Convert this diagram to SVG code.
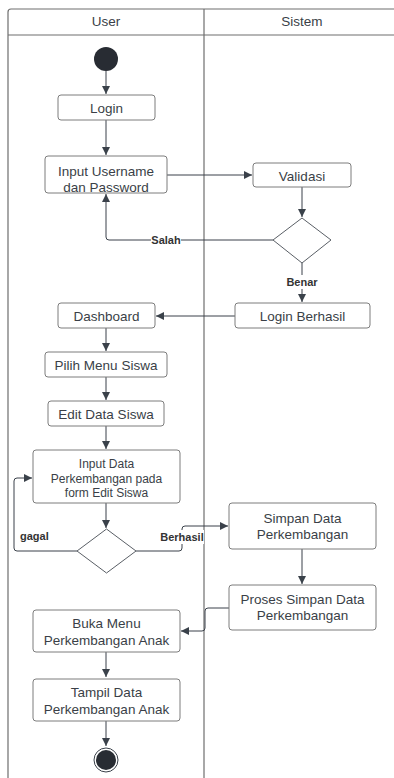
<svg xmlns="http://www.w3.org/2000/svg" width="394" height="778" viewBox="0 0 394 778">
  <defs>
    <marker id="arrow" viewBox="0 0 10 10" refX="10" refY="5" markerWidth="8" markerHeight="8" markerUnits="userSpaceOnUse" orient="auto">
      <path d="M0,0 L10,5 L0,10 Z" fill="#3a414a"/>
    </marker>
    <style>
      .lane { fill: none; stroke: #6e6e6e; stroke-width: 1.2; }
      .act rect { fill: #ffffff; stroke: #7d7d7d; stroke-width: 1; }
      .act text, .hdr { font-family: "Liberation Sans", Arial, sans-serif; font-size: 13.5px; fill: #3a3f47; text-anchor: middle; dominant-baseline: central; }
      .act text.small { font-size: 12px; }
      .dec polygon { fill: #ffffff; stroke: #5a5f66; stroke-width: 1; }
      .conn path { fill: none; stroke: #3a414a; stroke-width: 1; stroke-linejoin: round; }
      .lbl { font-family: "Liberation Sans", Arial, sans-serif; font-size: 11px; font-weight: bold; fill: #333333; dominant-baseline: central; }
    </style>
  </defs>

  <rect width="394" height="778" fill="#ffffff"/>

  <!-- swimlanes -->
  <g id="lanes">
    <path class="lane" d="M8,778 V12 Q8,9 11,9 H394"/>
    <path class="lane" d="M8,35 H394"/>
    <path class="lane" d="M204,9 V778"/>
    <text class="hdr" x="106" y="21">User</text>
    <text class="hdr" x="302" y="21">Sistem</text>
  </g>

  <!-- connectors -->
  <g id="connectors" class="conn">
    <path d="M106,71 V94" marker-end="url(#arrow)"/>
    <path d="M106,120 V155" stroke="#9a9a9a" marker-end="url(#arrow)"/>
    <path d="M167,175 H252" marker-end="url(#arrow)"/>
    <path d="M302,187 V217" marker-end="url(#arrow)"/>
    <path d="M273,240 H109 Q106,240 106,237 V194" marker-end="url(#arrow)"/>
    <path d="M302,263 V302" marker-end="url(#arrow)"/>
    <path d="M235,316 H156" marker-end="url(#arrow)"/>
    <path d="M106,328 V351" marker-end="url(#arrow)"/>
    <path d="M106,377 V400" marker-end="url(#arrow)"/>
    <path d="M106,426 V449" marker-end="url(#arrow)"/>
    <path d="M106,503 V528" marker-end="url(#arrow)"/>
    <path d="M77,551 H17 Q14,551 14,548 V481 Q14,478 17,478 H32" marker-end="url(#arrow)"/>
    <path d="M136,551 H179 Q182,551 182,548 V529 Q182,526 185,526 H228" marker-end="url(#arrow)"/>
    <path d="M302,549 V584" marker-end="url(#arrow)"/>
    <path d="M229,608 H208 Q205,608 205,611 V628 Q205,631 202,631 H181" marker-end="url(#arrow)"/>
    <path d="M106,652 V677" marker-end="url(#arrow)"/>
    <path d="M106,721 V746" marker-end="url(#arrow)"/>
  </g>

  <!-- connector labels -->
  <g id="labels">
    <rect x="151" y="233" width="30" height="14" fill="#ffffff"/>
    <text class="lbl" x="166" y="240" text-anchor="middle">Salah</text>
    <rect x="286" y="275" width="32" height="14" fill="#ffffff"/>
    <text class="lbl" x="302" y="282" text-anchor="middle">Benar</text>
    <text class="lbl" x="20" y="536">gagal</text>
    <rect x="161" y="530" width="43" height="14" fill="#ffffff"/>
    <text class="lbl" x="182" y="537" text-anchor="middle">Berhasil</text>
  </g>

  <!-- nodes -->
  <g id="start">
    <circle cx="106" cy="59" r="12" fill="#282c33"/>
  </g>

  <g id="login" class="act">
    <rect x="58" y="95" width="97" height="25" rx="3"/>
    <text x="106.5" y="108">Login</text>
  </g>

  <g id="input-username" class="act">
    <rect x="45" y="156" width="122" height="37" rx="3"/>
    <text x="106" y="171">Input Username</text>
    <text x="106" y="187">dan Password</text>
  </g>

  <g id="validasi" class="act">
    <rect x="253" y="163" width="98" height="24" rx="3"/>
    <text x="302" y="176">Validasi</text>
  </g>

  <g id="cek-login" class="dec">
    <polygon points="302,218 331,240 302,263 273,240"/>
  </g>

  <g id="login-berhasil" class="act">
    <rect x="235" y="303" width="135" height="25" rx="3"/>
    <text x="302.5" y="316">Login Berhasil</text>
  </g>

  <g id="dashboard" class="act">
    <rect x="58" y="303" width="97" height="25" rx="3"/>
    <text x="106.5" y="316">Dashboard</text>
  </g>

  <g id="pilih-menu" class="act">
    <rect x="45" y="352" width="122" height="25" rx="3"/>
    <text x="106" y="365">Pilih Menu Siswa</text>
  </g>

  <g id="edit-data" class="act">
    <rect x="48" y="401" width="116" height="25" rx="3"/>
    <text x="106" y="414">Edit Data Siswa</text>
  </g>

  <g id="input-data" class="act">
    <rect x="33" y="450" width="147" height="53" rx="3"/>
    <text class="small" x="106.5" y="464">Input Data</text>
    <text class="small" x="106.5" y="479">Perkembangan pada</text>
    <text class="small" x="106.5" y="493">form Edit Siswa</text>
  </g>

  <g id="cek-input" class="dec">
    <polygon points="106.5,529 136,551 106.5,573 77,551"/>
  </g>

  <g id="simpan-data" class="act">
    <rect x="229" y="503" width="147" height="46" rx="3"/>
    <text x="302.5" y="518">Simpan Data</text>
    <text x="302.5" y="534">Perkembangan</text>
  </g>

  <g id="proses-simpan" class="act">
    <rect x="229" y="585" width="147" height="45" rx="3"/>
    <text x="302.5" y="599">Proses Simpan Data</text>
    <text x="302.5" y="615">Perkembangan</text>
  </g>

  <g id="buka-menu" class="act">
    <rect x="33" y="610" width="147" height="42" rx="3"/>
    <text x="106.5" y="623">Buka Menu</text>
    <text x="106.5" y="640">Perkembangan Anak</text>
  </g>

  <g id="tampil-data" class="act">
    <rect x="33" y="679" width="147" height="42" rx="3"/>
    <text x="106.5" y="692">Tampil Data</text>
    <text x="106.5" y="709">Perkembangan Anak</text>
  </g>

  <g id="end">
    <circle cx="106" cy="760" r="12" fill="#ffffff" stroke="#3a414a" stroke-width="1"/>
    <circle cx="106" cy="760" r="10" fill="#282c33"/>
  </g>
</svg>
